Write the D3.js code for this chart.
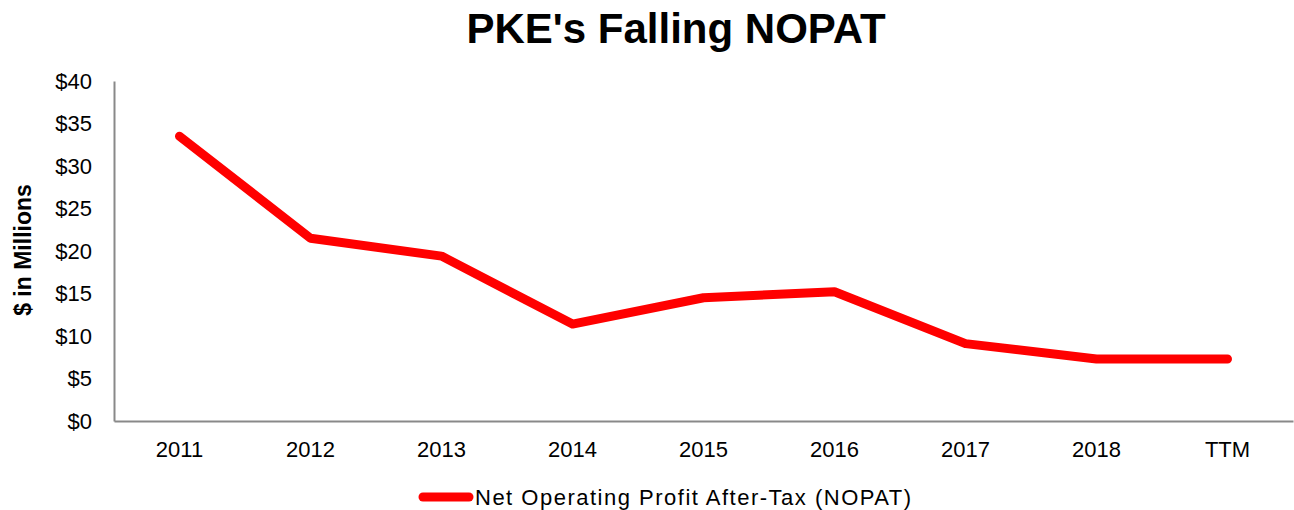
<!DOCTYPE html>
<html><head><meta charset="utf-8">
<script src="https://cdn.jsdelivr.net/npm/d3@7"></script>
<style>body{margin:0;background:#fff;}svg{display:block;font-family:"Liberation Sans",Arial,sans-serif;}</style>
</head><body>
<svg id="c" width="1294" height="510"></svg>
<script>
const categories = ["2011","2012","2013","2014","2015","2016","2017","2018","TTM"];
const nopat = [33.5, 21.5, 19.4, 11.4, 14.5, 15.2, 9.1, 7.3, 7.3];
const yTicks = [0,5,10,15,20,25,30,35,40];
const seriesName = "Net Operating Profit After-Tax (NOPAT)";

const svg = d3.select("#c");
const m = {l:114, r:1, t:81, b:89};
const W = 1294, H = 510;
const x = d3.scaleBand().domain(categories).range([m.l, W - m.r]);
const y = d3.scaleLinear().domain([0,40]).range([H - m.b, m.t]);

svg.append("text").attr("x",676).attr("y",43).attr("text-anchor","middle")
  .attr("font-size",42).attr("font-weight","bold").text("PKE's Falling NOPAT");

svg.append("text").attr("transform","translate(31,250) rotate(-90)").attr("text-anchor","middle")
  .attr("font-size",23).attr("font-weight","bold").text("$ in Millions");

const ya = svg.append("g").attr("transform",`translate(${m.l},0)`)
  .call(d3.axisLeft(y).tickValues(yTicks).tickSize(0).tickPadding(22).tickFormat(d=>"$"+d));
ya.select(".domain").attr("stroke","#898989").attr("stroke-width",2);
ya.selectAll("text").attr("font-size",22).attr("fill","#000").attr("font-family","Liberation Sans, Arial, sans-serif");

const xa = svg.append("g").attr("transform",`translate(0,${y(0)})`)
  .call(d3.axisBottom(x).tickSize(0).tickPadding(20));
xa.select(".domain").attr("stroke","#898989").attr("stroke-width",2);
xa.selectAll("text").attr("font-size",22).attr("fill","#000").attr("font-family","Liberation Sans, Arial, sans-serif");

const line = d3.line().x((d,i)=>x(categories[i]) + x.bandwidth()/2).y(d=>y(d));
svg.append("path").datum(nopat).attr("d",line).attr("fill","none")
  .attr("stroke","#ff0000").attr("stroke-width",9).attr("stroke-linecap","round").attr("stroke-linejoin","round");

svg.append("line").attr("x1",423).attr("x2",469).attr("y1",497).attr("y2",497)
  .attr("stroke","#ff0000").attr("stroke-width",9).attr("stroke-linecap","round");
svg.append("text").attr("x",475).attr("y",505).attr("font-size",22).attr("letter-spacing",1.5).text(seriesName);
</script>
</body></html>
